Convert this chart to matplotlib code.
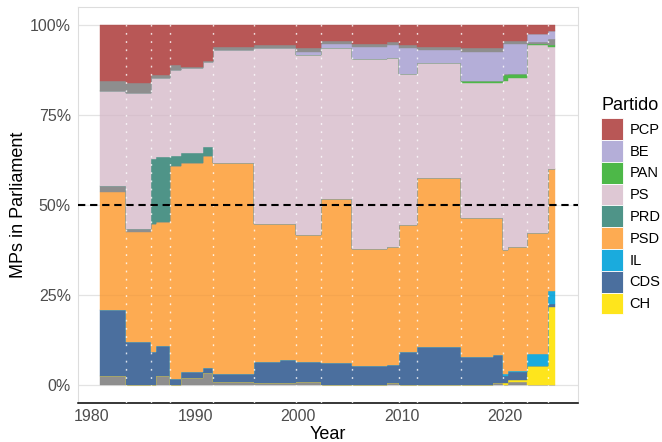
import numpy as np
import matplotlib.pyplot as plt
from matplotlib.patches import Patch

plt.rcParams['font.family'] = ['Liberation Sans', 'DejaVu Sans']

# legislature segments (start of each composition), last one ends at data_end
seg_start = [1980.83, 1983.32, 1985.76, 1986.23, 1987.55, 1988.65, 1990.80,
             1991.76, 1995.75, 1998.20, 1999.77, 2002.21, 2005.14, 2008.60,
             2009.74, 2011.43, 2015.76, 2018.85, 2019.76, 2020.30, 2022.08,
             2024.19]
data_end = 2024.85

elections = [1983.32, 1985.76, 1987.55, 1991.76, 1995.75, 1999.77, 2002.21,
             2005.14, 2009.74, 2011.43, 2015.76, 2019.76, 2022.08, 2024.19]

# seats per segment (grey = others / independents, not in the legend)
oth_right = [6, 0, 0, 6, 0, 5, 8, 2, 1, 1, 2, 0, 0, 1, 0, 0, 0, 1, 0, 2, 0, 0]
ch = [0] * 18 + [1, 1, 12, 50]
cds = [46, 30, 23, 21, 4, 4, 4, 5, 14, 15, 13, 14, 12, 12, 21, 24, 18, 18, 5, 5, 0, 2]
il = [0] * 18 + [1, 1, 8, 8]
psd = [82, 76, 89, 86, 148, 145, 147, 135, 88, 87, 81, 105, 75, 75, 81, 108, 89, 88, 79, 79, 77, 78]
oth_centre = [4, 2] + [0] * 20
prd = [0, 0, 45, 45, 7, 7, 6] + [0] * 15
ps = [66, 95, 56, 55, 60, 59, 59, 72, 112, 112, 115, 96, 121, 121, 97, 74, 86, 86, 108, 108, 120, 78]
pan = [0] * 16 + [1, 1, 4, 3, 1, 1]
oth_left = [0] * 18 + [1, 0, 1, 4]
be = [0] * 10 + [2, 3, 8, 8, 16, 8, 19, 19, 19, 19, 5, 5]
oth_farleft = [7, 7, 2, 2, 3, 1, 1, 2, 2, 2, 2, 2, 2, 2, 2, 2, 2, 2, 2, 2, 0, 0]
pcp = [39, 40, 35, 35, 28, 29, 25, 14, 13, 13, 15, 10, 12, 11, 13, 14, 15, 15, 10, 10, 6, 4]

grey = '#8E8E8E'
colors = {'PCP': '#B85756', 'BE': '#B4AED8', 'PAN': '#4DB848', 'PS': '#DEC8D4',
          'PRD': '#4F9488', 'PSD': '#FDAB52', 'IL': '#1AABDD', 'CDS': '#4B6F9E',
          'CH': '#FEE51C'}

# bottom -> top
layers = [(oth_right, grey), (ch, colors['CH']), (cds, colors['CDS']),
          (il, colors['IL']), (psd, colors['PSD']), (oth_centre, grey),
          (prd, colors['PRD']), (ps, colors['PS']), (pan, colors['PAN']),
          (oth_left, grey), (be, colors['BE']), (oth_farleft, grey),
          (pcp, colors['PCP'])]

fig = plt.figure(figsize=(6.62, 4.42), dpi=100)
ax = fig.add_axes([77.7 / 662, 39 / 442, (578 - 77.7) / 662, (403 - 7) / 442])

x = np.array(seg_start + [data_end])
total = np.sum([np.array(v) for v, _ in layers], axis=0)
bottom = np.zeros(len(seg_start))
for vals, col in layers:
    top = bottom + np.array(vals) / total
    ax.fill_between(x, np.append(bottom, bottom[-1]), np.append(top, top[-1]),
                    step='post', color=col, ec=col, lw=0.3, zorder=2)
    bottom = top

for d in elections:
    ax.axvline(d, color='white', lw=1.0, dashes=(1.3, 4.6), alpha=0.8, zorder=3)
ax.axhline(0.5, color='black', lw=1.5, dashes=(3.5, 2.3), zorder=4)

ax.set_xlim(1978.65, 2027.05)
ax.set_ylim(-0.05, 1.05)
ax.set_yticks([0, 0.25, 0.5, 0.75, 1.0])
ax.set_yticklabels(['0%', '25%', '50%', '75%', '100%'])
ax.set_xticks([1980, 1990, 2000, 2010, 2020])
ax.tick_params(axis='both', length=0, labelsize=11.5, labelcolor='#4D4D4D')
ax.tick_params(axis='y', pad=5)
ax.tick_params(axis='x', pad=4)

ax.yaxis.grid(True, color='#EBEBEB', lw=0.9, zorder=0)
for yv in [0, 0.25, 0.75, 1.0]:
    ax.axhline(yv, color='black', alpha=0.03, lw=0.9, zorder=2.5)
ax.set_axisbelow(True)

for s in ['top', 'left', 'right']:
    ax.spines[s].set_color('#DDDDDD')
    ax.spines[s].set_linewidth(0.8)
ax.spines['bottom'].set_color('black')
ax.spines['bottom'].set_linewidth(1.1)

ax.set_xlabel('Year', fontsize=13, labelpad=2)
ax.set_ylabel('MPs in Parliament', fontsize=13, labelpad=2)

legend_order = ['PCP', 'BE', 'PAN', 'PS', 'PRD', 'PSD', 'IL', 'CDS', 'CH']
handles = [Patch(facecolor=colors[p], edgecolor='white', lw=0.6, label=p)
           for p in legend_order]
leg = ax.legend(handles=handles, title='Partido', loc='upper left',
                bbox_to_anchor=(599 / 662, 1 - 95 / 442),
                bbox_transform=fig.transFigure, frameon=False, fontsize=10.5,
                title_fontsize=13, handlelength=1.5, handleheight=1.92,
                labelspacing=0.0, handletextpad=0.45, borderpad=0.15,
                borderaxespad=0)
leg._legend_box.align = 'left'
leg._legend_box.sep = 3

fig.savefig('out.png', dpi=100)
